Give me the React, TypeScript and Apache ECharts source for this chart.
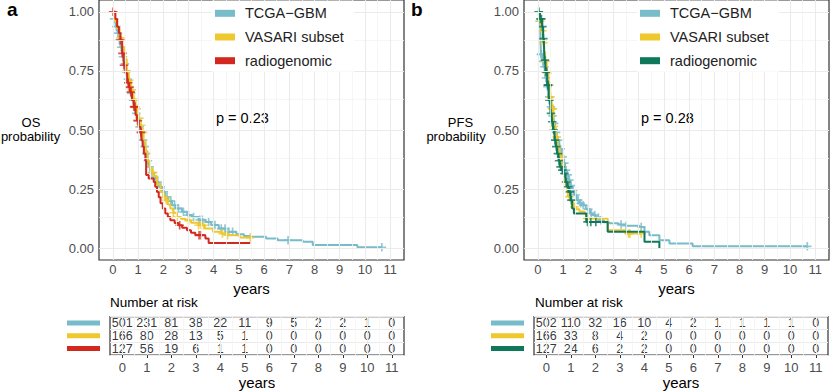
import React, { useEffect, useRef } from "react";
import * as echarts from "echarts";

// ---------- data ----------
const YEARS = [0, 1, 2, 3, 4, 5, 6, 7, 8, 9, 10, 11];
const PROB_TICKS = [0, 0.25, 0.5, 0.75, 1];
const GROUPS = ["TCGA−GBM", "VASARI subset", "radiogenomic"];

const COLOR_TCGA = "#78BBC9";
const COLOR_VASARI = "#EEC82C";
const COLOR_OS_RADIO = "#D2281E";
const COLOR_PFS_RADIO = "#0F785A";

// Overall survival (panel a)
const osTcgaTime = [0, 0.05, 0.11, 0.18, 0.24, 0.3, 0.37, 0.44, 0.5, 0.57, 0.63, 0.7, 0.76, 0.83, 0.9, 0.96, 1.03, 1.1, 1.16, 1.23, 1.29, 1.36, 1.42, 1.5, 1.62, 1.72, 1.82, 1.95, 2.08, 2.2, 2.35, 2.5, 2.74, 2.95, 3.14, 3.4, 3.67, 3.9, 4.2, 4.5, 4.9, 5.2, 5.42, 6.08, 6.54, 7.53, 7.93, 9.7, 10.67];
const osTcgaSurv = [1, 0.97, 0.937, 0.91, 0.88, 0.85, 0.81, 0.78, 0.746, 0.715, 0.683, 0.655, 0.626, 0.6, 0.57, 0.54, 0.513, 0.49, 0.457, 0.43, 0.4, 0.37, 0.344, 0.32, 0.3, 0.28, 0.26, 0.238, 0.217, 0.2, 0.182, 0.168, 0.154, 0.14, 0.132, 0.12, 0.111, 0.098, 0.083, 0.069, 0.059, 0.052, 0.048, 0.041, 0.034, 0.027, 0.013, 0.004, 0.004];
const osTcgaCensor = [0.05, 0.14, 0.2, 0.26, 0.33, 0.4, 0.47, 0.53, 0.6, 0.66, 0.73, 0.8, 0.86, 0.93, 1.0, 1.06, 1.13, 1.2, 1.26, 1.33, 1.39, 1.46, 1.55, 1.65, 1.78, 1.9, 2.02, 2.15, 2.3, 2.45, 2.6, 2.8, 3.0, 3.2, 3.45, 3.55, 3.8, 4.05, 4.3, 4.45, 4.6, 4.75, 6.95, 10.67];

const osVasariTime = [0, 0.08, 0.17, 0.27, 0.36, 0.46, 0.55, 0.63, 0.72, 0.8, 0.9, 0.98, 1.06, 1.14, 1.22, 1.3, 1.38, 1.46, 1.55, 1.62, 1.75, 1.89, 2.0, 2.08, 2.18, 2.28, 2.4, 2.54, 2.7, 2.88, 3.1, 3.4, 3.65, 3.97, 4.3, 4.5, 5.03, 5.45];
const osVasariSurv = [1, 0.96, 0.93, 0.89, 0.85, 0.8, 0.75, 0.71, 0.67, 0.63, 0.59, 0.55, 0.52, 0.49, 0.45, 0.41, 0.37, 0.34, 0.32, 0.305, 0.27, 0.238, 0.215, 0.203, 0.185, 0.168, 0.15, 0.132, 0.125, 0.118, 0.108, 0.097, 0.083, 0.069, 0.062, 0.055, 0.045, 0.045];
const osVasariCensor = [0.3, 0.55, 0.65, 0.75, 0.85, 0.95, 1.05, 1.12, 1.2, 1.6, 2.05, 2.12, 2.4, 2.55, 3.0, 3.4, 3.5, 3.6, 4.35, 4.55, 5.45];

const osRadioTime = [0, 0.1, 0.17, 0.24, 0.3, 0.37, 0.43, 0.5, 0.57, 0.64, 0.7, 0.76, 0.83, 0.9, 0.96, 1.03, 1.1, 1.13, 1.18, 1.23, 1.29, 1.32, 1.42, 1.62, 1.68, 1.75, 1.82, 1.89, 1.98, 2.08, 2.18, 2.28, 2.45, 2.6, 2.75, 2.94, 3.1, 3.27, 3.67, 3.8, 5.45];
const osRadioSurv = [1, 0.97, 0.937, 0.91, 0.88, 0.824, 0.774, 0.74, 0.7, 0.68, 0.66, 0.626, 0.598, 0.563, 0.54, 0.513, 0.49, 0.457, 0.43, 0.4, 0.37, 0.31, 0.295, 0.28, 0.26, 0.238, 0.215, 0.19, 0.168, 0.147, 0.132, 0.118, 0.107, 0.097, 0.086, 0.076, 0.065, 0.055, 0.041, 0.022, 0.022];
const osRadioCensor = [0.01, 0.3, 0.38, 0.44, 0.61, 0.66, 0.71, 0.84, 0.88, 0.98, 1.11, 2.65, 3.42, 3.5];

// Progression-free survival (panel b)
const pfsTcgaTime = [0, 0.05, 0.1, 0.12, 0.18, 0.23, 0.29, 0.36, 0.42, 0.49, 0.55, 0.62, 0.68, 0.75, 0.85, 0.95, 1.02, 1.08, 1.15, 1.22, 1.28, 1.35, 1.45, 1.54, 1.64, 1.74, 1.9, 2.07, 2.18, 2.3, 2.44, 2.6, 2.84, 3.2, 3.5, 4.03, 4.23, 4.42, 4.82, 5.22, 6.14, 10.69];
const pfsTcgaSurv = [1, 0.96, 0.91, 0.82, 0.79, 0.767, 0.72, 0.683, 0.64, 0.598, 0.56, 0.528, 0.49, 0.457, 0.42, 0.386, 0.36, 0.33, 0.31, 0.288, 0.265, 0.245, 0.225, 0.203, 0.19, 0.182, 0.165, 0.147, 0.14, 0.13, 0.118, 0.11, 0.105, 0.1, 0.095, 0.09, 0.069, 0.055, 0.034, 0.02, 0.008, 0.008];
const pfsTcgaCensor = [0.03, 0.07, 0.12, 0.14, 0.2, 0.26, 0.32, 0.38, 0.45, 0.52, 0.58, 0.65, 0.72, 0.8, 0.9, 0.98, 1.05, 1.12, 1.18, 1.25, 1.32, 1.4, 1.5, 1.6, 1.7, 1.8, 2.0, 2.12, 2.25, 2.4, 2.5, 3.3, 3.5, 4.1, 10.69];

const pfsVasariTime = [0, 0.08, 0.15, 0.2, 0.25, 0.29, 0.35, 0.42, 0.49, 0.55, 0.62, 0.7, 0.78, 0.86, 0.94, 1.02, 1.08, 1.15, 1.19, 1.28, 1.39, 1.5, 1.65, 1.85, 1.92, 2.77, 3.5, 4.1];
const pfsVasariSurv = [1, 0.96, 0.92, 0.87, 0.83, 0.79, 0.74, 0.69, 0.64, 0.59, 0.515, 0.47, 0.43, 0.39, 0.35, 0.316, 0.28, 0.245, 0.218, 0.2, 0.175, 0.165, 0.155, 0.147, 0.126, 0.076, 0.062, 0.062];
const pfsVasariCensor = [0.1, 0.18, 0.22, 0.3, 0.38, 0.45, 0.5, 0.56, 0.58, 0.6, 0.64, 0.75, 0.92, 1.1, 1.25, 1.45, 1.95, 2.0, 3.6, 3.65, 4.1];

const pfsRadioTime = [0, 0.08, 0.17, 0.21, 0.24, 0.26, 0.3, 0.37, 0.43, 0.5, 0.55, 0.6, 0.66, 0.71, 0.76, 0.82, 0.87, 0.94, 1.0, 1.1, 1.16, 1.23, 1.3, 1.36, 1.43, 1.92, 2.77, 4.23, 4.82];
const pfsRadioSurv = [1, 0.97, 0.937, 0.887, 0.866, 0.796, 0.746, 0.69, 0.626, 0.57, 0.535, 0.5, 0.457, 0.43, 0.4, 0.37, 0.344, 0.33, 0.316, 0.28, 0.26, 0.238, 0.203, 0.168, 0.147, 0.111, 0.069, 0.027, 0];
const pfsRadioCensor = [0.04, 0.1, 0.14, 0.18, 0.22, 0.28, 0.32, 0.35, 0.39, 0.41, 0.46, 0.52, 0.57, 0.63, 0.68, 0.73, 0.79, 0.84, 0.9, 0.97, 1.05, 1.13, 1.2, 1.27, 1.33, 1.97, 2.1, 2.3];

// Number at risk
const osRiskTcga = [501, 231, 81, 38, 22, 11, 9, 5, 2, 2, 1, 0];
const osRiskVasari = [166, 80, 28, 13, 5, 1, 0, 0, 0, 0, 0, 0];
const osRiskRadio = [127, 56, 19, 6, 1, 1, 0, 0, 0, 0, 0, 0];
const pfsRiskTcga = [502, 110, 32, 16, 10, 4, 2, 1, 1, 1, 1, 0];
const pfsRiskVasari = [166, 33, 8, 4, 2, 0, 0, 0, 0, 0, 0, 0];
const pfsRiskRadio = [127, 24, 6, 2, 2, 0, 0, 0, 0, 0, 0, 0];

const P_OS = "p = 0.23";
const P_PFS = "p = 0.28";

// ---------- helpers ----------
const FONT = "'Liberation Sans', Arial, Helvetica, sans-serif";
const PLUS = "path://M-0.2,-1H0.2V-0.2H1V0.2H0.2V1H-0.2V0.2H-1V-0.2H-0.2Z";
const MAJOR = "#EBEBEB";
const MINOR = "#F4F4F4";

function stepAt(times: number[], surv: number[], t: number) {
  let s = surv[0];
  for (let i = 0; i < times.length; i++) {
    if (times[i] <= t) s = surv[i];
    else break;
  }
  return s;
}

function zip(a: number[], b: number[]) {
  return a.map((v, i) => [v, b[i]]);
}

const HALF_YEARS = YEARS.slice(0, -1).map((y) => y + 0.5);
const MINOR_PROBS = PROB_TICKS.slice(0, -1).map((p) => p + 0.125);

function gridLines(xi: number, yi: number, vertMajor: number[], vertMinor: number[], horMajor: number[], horMinor: number[]) {
  const data: any[] = [];
  vertMinor.forEach((v) => data.push({ xAxis: v, lineStyle: { color: MINOR, width: 0.8, type: "solid" } }));
  horMinor.forEach((v) => data.push({ yAxis: v, lineStyle: { color: MINOR, width: 0.8, type: "solid" } }));
  vertMajor.forEach((v) => data.push({ xAxis: v, lineStyle: { color: MAJOR, width: 1.1, type: "solid" } }));
  horMajor.forEach((v) => data.push({ yAxis: v, lineStyle: { color: MAJOR, width: 1.1, type: "solid" } }));
  return {
    type: "line",
    name: "_grid" + xi,
    xAxisIndex: xi,
    yAxisIndex: yi,
    data: [],
    z: 1,
    silent: true,
    markLine: {
      silent: true,
      symbol: ["none", "none"],
      label: { show: false },
      animation: false,
      data,
    },
  };
}

function kmSeries(name: string, color: string, times: number[], surv: number[], cens: number[], axis: number, z: number) {
  return [
    {
      type: "line",
      name: name + "_" + axis,
      xAxisIndex: axis,
      yAxisIndex: axis,
      step: "end",
      showSymbol: false,
      data: zip(times, surv),
      color,
      lineStyle: { color, width: 2 },
      itemStyle: { color },
      z,
      silent: true,
    },
    {
      type: "scatter",
      name: "_cens_" + name + axis,
      xAxisIndex: axis,
      yAxisIndex: axis,
      symbol: PLUS,
      symbolSize: 8.5,
      itemStyle: { color },
      data: cens.map((t) => [t, stepAt(times, surv, t)]),
      z,
      silent: true,
    },
  ];
}

function riskSeries(axis: number, rows: number[][]) {
  const data: any[] = [];
  rows.forEach((row, g) => row.forEach((n, i) => data.push([YEARS[i], g, n])));
  return {
    type: "scatter",
    name: "_risk" + axis,
    xAxisIndex: axis,
    yAxisIndex: axis,
    symbolSize: 1,
    itemStyle: { color: "rgba(0,0,0,0)" },
    data,
    z: 3,
    silent: true,
    label: {
      show: true,
      position: "inside",
      formatter: (p: any) => String(p.value[2]),
      fontSize: 12.5,
      fontFamily: FONT,
      color: "#000",
    },
    labelLayout: { hideOverlap: false },
  };
}

function mainXAxis(gridIndex: number) {
  return {
    type: "value",
    gridIndex,
    min: -0.55,
    max: 11.55,
    axisLine: { show: false },
    axisTick: { show: true, customValues: YEARS, length: 3, lineStyle: { color: "#333", width: 1 } },
    axisLabel: { customValues: YEARS, margin: 3, fontSize: 13, color: "#4D4D4D", fontFamily: FONT },
    splitLine: { show: false },
    name: "years",
    nameLocation: "middle",
    nameGap: 21,
    nameTextStyle: { fontSize: 15, color: "#000", fontFamily: FONT },
  };
}

function mainYAxis(gridIndex: number) {
  return {
    type: "value",
    gridIndex,
    min: -0.05,
    max: 1.05,
    axisLine: { show: false },
    axisTick: { show: true, customValues: PROB_TICKS, length: 3, lineStyle: { color: "#333", width: 1 } },
    axisLabel: {
      customValues: PROB_TICKS,
      margin: 5,
      fontSize: 13,
      color: "#4D4D4D",
      fontFamily: FONT,
      formatter: (v: number) => v.toFixed(2),
    },
    splitLine: { show: false },
  };
}

function tableXAxis(gridIndex: number) {
  return {
    type: "value",
    gridIndex,
    min: -0.5,
    max: 11.5,
    axisLine: { show: false },
    axisTick: { show: true, customValues: YEARS, length: 3, lineStyle: { color: "#333", width: 1 } },
    axisLabel: { customValues: YEARS, margin: 6, fontSize: 13, color: "#4D4D4D", fontFamily: FONT },
    splitLine: { show: false },
    name: "years",
    nameLocation: "middle",
    nameGap: 20,
    nameTextStyle: { fontSize: 15, color: "#000", fontFamily: FONT },
  };
}

function tableYAxis(gridIndex: number, colors: string[]) {
  return {
    type: "category",
    gridIndex,
    data: GROUPS,
    inverse: true,
    axisLine: { show: false },
    axisTick: { show: false },
    splitLine: { show: true, lineStyle: { color: MAJOR, width: 1 } },
    axisLabel: {
      interval: 0,
      margin: 10,
      hideOverlap: false,
      formatter: (_v: string, i: number) => `{k${i}| }`,
      rich: {
        k0: { backgroundColor: colors[0], width: 33, height: 5, lineHeight: 5, fontSize: 4 },
        k1: { backgroundColor: colors[1], width: 33, height: 5, lineHeight: 5, fontSize: 4 },
        k2: { backgroundColor: colors[2], width: 33, height: 5, lineHeight: 5, fontSize: 4 },
      },
    },
  };
}

// legend drawn as graphic: white box, keys and labels
function legendGraphic(left: number, colors: string[]) {
  const rowY = [13.3, 37, 60.7];
  const children: any[] = [
    { type: "rect", shape: { x: left, y: 0.7, width: 142, height: 71 }, style: { fill: "#fff" }, z: 100 },
  ];
  GROUPS.forEach((g, i) => {
    children.push({ type: "rect", shape: { x: left + 3, y: rowY[i] - 3.5, width: 20, height: 7 }, style: { fill: colors[i] }, z: 101 });
    children.push({
      type: "text",
      x: left + 33,
      y: rowY[i],
      style: { text: g, font: `14.5px ${FONT}`, fill: "#222", verticalAlign: "middle" },
      z: 101,
    });
  });
  return children;
}

const GRID_STYLE = { show: true, borderColor: "#333", borderWidth: 1.2, backgroundColor: "transparent", containLabel: false };

export default function App() {
  const ref = useRef<HTMLDivElement>(null);

  useEffect(() => {
    if (!ref.current) return;
    const chart = echarts.init(ref.current, null, { renderer: "svg" });
    const osColors = [COLOR_TCGA, COLOR_VASARI, COLOR_OS_RADIO];
    const pfsColors = [COLOR_TCGA, COLOR_VASARI, COLOR_PFS_RADIO];

    const option: any = {
      animation: false,
      textStyle: { fontFamily: FONT },
      grid: [
        { ...GRID_STYLE, left: 99, top: 0, width: 305, height: 260 },
        { ...GRID_STYLE, left: 524, top: 0, width: 305, height: 260 },
        { ...GRID_STYLE, left: 110, top: 316.7, width: 294, height: 38.3 },
        { ...GRID_STYLE, left: 534, top: 316.7, width: 294, height: 38.3 },
      ],
      xAxis: [mainXAxis(0), mainXAxis(1), tableXAxis(2), tableXAxis(3)],
      yAxis: [mainYAxis(0), mainYAxis(1), tableYAxis(2, osColors), tableYAxis(3, pfsColors)],
      series: [
        gridLines(0, 0, YEARS, HALF_YEARS, PROB_TICKS, MINOR_PROBS),
        gridLines(1, 1, YEARS, HALF_YEARS, PROB_TICKS, MINOR_PROBS),
        gridLines(2, 2, YEARS, HALF_YEARS, [], []),
        gridLines(3, 3, YEARS, HALF_YEARS, [], []),
        ...kmSeries(GROUPS[0], COLOR_TCGA, osTcgaTime, osTcgaSurv, osTcgaCensor, 0, 2),
        ...kmSeries(GROUPS[1], COLOR_VASARI, osVasariTime, osVasariSurv, osVasariCensor, 0, 3),
        ...kmSeries(GROUPS[2], COLOR_OS_RADIO, osRadioTime, osRadioSurv, osRadioCensor, 0, 4),
        ...kmSeries(GROUPS[0], COLOR_TCGA, pfsTcgaTime, pfsTcgaSurv, pfsTcgaCensor, 1, 2),
        ...kmSeries(GROUPS[1], COLOR_VASARI, pfsVasariTime, pfsVasariSurv, pfsVasariCensor, 1, 3),
        ...kmSeries(GROUPS[2], COLOR_PFS_RADIO, pfsRadioTime, pfsRadioSurv, pfsRadioCensor, 1, 4),
        riskSeries(2, [osRiskTcga, osRiskVasari, osRiskRadio]),
        riskSeries(3, [pfsRiskTcga, pfsRiskVasari, pfsRiskRadio]),
      ],
      graphic: [
        ...legendGraphic(212, osColors),
        ...legendGraphic(637, pfsColors),
        { type: "text", x: 7, y: 0, style: { text: "a", font: `bold 19px ${FONT}`, fill: "#000", verticalAlign: "top" } },
        { type: "text", x: 411, y: 0, style: { text: "b", font: `bold 19px ${FONT}`, fill: "#000", verticalAlign: "top" } },
        { type: "text", x: 31, y: 122.5, style: { text: "OS", font: `13px ${FONT}`, fill: "#000", align: "center", verticalAlign: "middle" } },
        { type: "text", x: 30.5, y: 136.5, style: { text: "probability", font: `13px ${FONT}`, fill: "#000", align: "center", verticalAlign: "middle" } },
        { type: "text", x: 460.5, y: 122.5, style: { text: "PFS", font: `13px ${FONT}`, fill: "#000", align: "center", verticalAlign: "middle" } },
        { type: "text", x: 456, y: 136.5, style: { text: "probability", font: `13px ${FONT}`, fill: "#000", align: "center", verticalAlign: "middle" } },
        { type: "text", x: 216, y: 118, style: { text: P_OS, font: `14.5px ${FONT}`, fill: "#000", verticalAlign: "middle" } },
        { type: "text", x: 641, y: 118, style: { text: P_PFS, font: `14.5px ${FONT}`, fill: "#000", verticalAlign: "middle" } },
        { type: "text", x: 110, y: 302, style: { text: "Number at risk", font: `13.5px ${FONT}`, fill: "#000", verticalAlign: "middle" } },
        { type: "text", x: 535, y: 302, style: { text: "Number at risk", font: `13.5px ${FONT}`, fill: "#000", verticalAlign: "middle" } },
      ],
    };
    chart.setOption(option);
    return () => chart.dispose();
  }, []);

  return <div ref={ref} style={{ position: "absolute", left: 0, top: 0, width: 830, height: 391, background: "#fff" }} />;
}
